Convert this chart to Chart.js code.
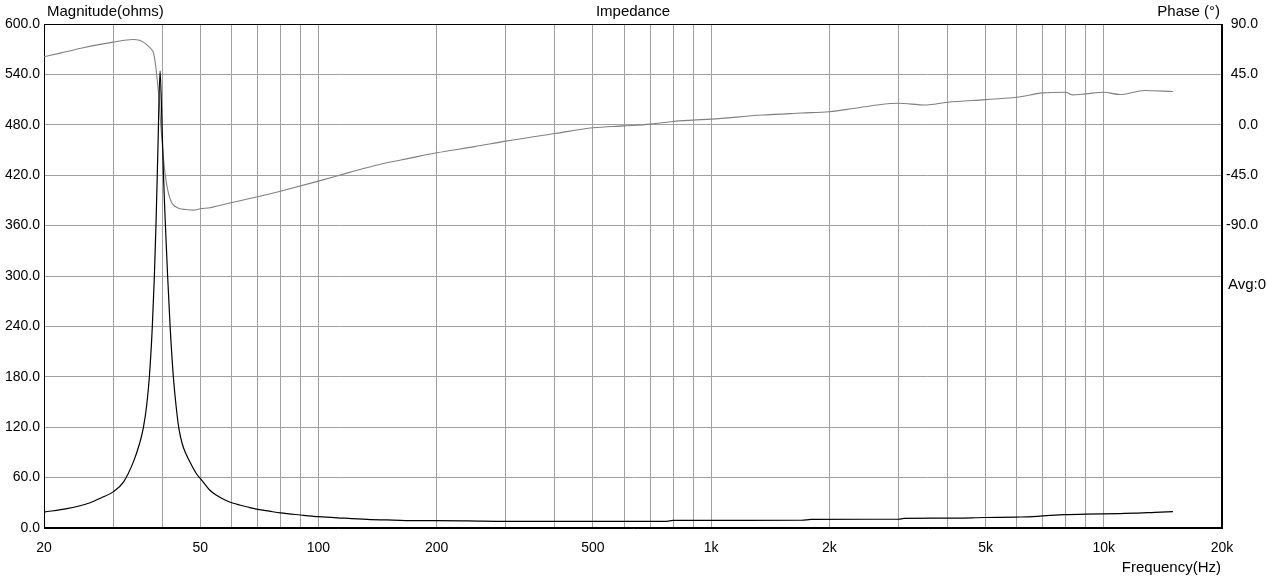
<!DOCTYPE html>
<html>
<head>
<meta charset="utf-8">
<script src="https://cdn.jsdelivr.net/npm/chart.js@4.4.1/dist/chart.umd.min.js"></script>
<style>
    body { margin: 0; background: #fff; }
    #wrap { width: 1268px; height: 578px; }
</style>
</head>
<body>
<div id="wrap"><canvas id="impedancia" width="1268" height="578"></canvas></div>
<script>
// magnitude curve (Hz, ohms)
const magFreq = [20, 22.9, 26.2, 28, 30, 31.9, 33.8, 35, 35.8, 36.5, 37.1, 37.75, 38.2, 38.6, 39.0, 39.5, 39.9, 40.3, 40.7, 41.3, 41.9, 42.7, 43.4, 44.1, 45, 46, 47.5, 49, 50, 51, 52.9, 55, 58, 60.7, 63, 66, 70, 75, 80, 90, 100, 115, 133, 155, 178, 200, 240, 300, 400, 500, 600, 770, 800, 1000, 1200, 1700, 1800, 2500, 3000, 3100, 4000, 5000, 6000, 6600, 7300, 8000, 9000, 10000, 11000, 12000, 13500, 15000];
const magOhms = [19, 23, 30, 36, 43, 55, 79, 100, 119, 145, 180, 240, 299, 367, 450, 544, 490, 420, 367, 299, 240, 180, 145, 119, 100, 88, 75, 64, 59, 54, 45, 39, 33, 29.5, 27.4, 25, 22.2, 20, 18, 15.5, 13.5, 11.8, 10.3, 9.4, 8.7, 8.8, 8.5, 7.9, 7.9, 7.9, 7.9, 7.9, 9, 9, 9.1, 9.2, 10.3, 10.4, 10.4, 11.5, 11.7, 12.5, 13, 13.5, 15, 16, 16.4, 16.8, 17.2, 17.6, 18.6, 19.4];

// phase curve (Hz, degrees)
const phaseFreq = [20, 22, 25, 28, 30, 32, 33.8, 35, 35.8, 36.8, 37.6, 38, 38.3, 38.6, 38.9, 39.3, 39.7, 40.0, 40.4, 40.8, 41.3, 41.8, 42.3, 43.2, 44.4, 46, 48, 50, 53, 56, 60, 70, 80, 100, 120, 143, 170, 200, 250, 300, 400, 500, 600, 700, 800, 900, 1000, 1350, 1700, 2000, 2300, 2650, 3000, 3500, 4000, 5000, 6000, 7000, 8000, 8300, 9000, 10000, 11000, 12700, 15000];
const phaseDeg = [60.7, 64, 68.5, 72, 73.8, 75.5, 76.2, 75.5, 73.8, 70.5, 67.2, 64.5, 58, 49.4, 38, 22, -2, -16, -34, -47, -58, -65, -69.6, -73, -75, -75.6, -76.2, -75, -74, -72, -69.6, -64.3, -59.3, -50.3, -42.5, -35.4, -30, -25, -19.5, -14.6, -7.8, -2.7, -1, 0.6, 3, 4.2, 5.1, 8.7, 10.5, 11.7, 14.5, 17.7, 19.2, 17.7, 20.1, 22.5, 24.6, 28.5, 29.1, 26.7, 27.6, 29.1, 27, 30.6, 29.7];

// axes
const freqGrid = [20, 30, 40, 50, 60, 70, 80, 90, 100, 200, 300, 400, 500, 600, 700, 800, 900, 1000, 2000, 3000, 4000, 5000, 6000, 7000, 8000, 9000, 10000, 20000];
const freqLabels = { 20: '20', 50: '50', 100: '100', 200: '200', 500: '500', 1000: '1k', 2000: '2k', 5000: '5k', 10000: '10k', 20000: '20k' };

const fonte = { family: "'Liberation Sans', Arial, sans-serif", size: 14 };

const textos = {
    id: 'textos',
    beforeDatasetsDraw(chart) {
        const { ctx, chartArea } = chart;
        ctx.save();
        ctx.strokeStyle = '#000';
        ctx.lineWidth = 1;
        ctx.strokeRect(chartArea.left + 0.5, chartArea.top + 0.5, chartArea.right - chartArea.left - 1, chartArea.bottom - chartArea.top - 1);
        ctx.restore();
    },
    afterDraw(chart) {
        const { ctx, chartArea } = chart;
        ctx.save();
        ctx.fillStyle = '#000';
        ctx.font = "15px 'Liberation Sans', Arial, sans-serif";
        ctx.textBaseline = 'middle';
        ctx.textAlign = 'left';
        ctx.fillText('Magnitude(ohms)', chartArea.left + 3, 12);
        ctx.fillText('Avg:0', chartArea.right + 6, 285);
        ctx.textAlign = 'center';
        ctx.fillText('Impedance', (chartArea.left + chartArea.right) / 2, 12);
        ctx.textAlign = 'right';
        ctx.fillText('Phase (°)', chartArea.right - 2, 12);
        ctx.fillText('Frequency(Hz)', chartArea.right - 1, 568);
        ctx.restore();
    }
};

new Chart(document.getElementById('impedancia'), {
    type: 'line',
    data: {
        datasets: [
            {
                label: 'Magnitude',
                data: magFreq.map((f, i) => ({ x: f, y: magOhms[i] })),
                yAxisID: 'y',
                borderColor: '#000',
                borderWidth: 1.2,
                pointRadius: 0,
                cubicInterpolationMode: 'monotone'
            },
            {
                label: 'Phase',
                data: phaseFreq.map((f, i) => ({ x: f, y: phaseDeg[i] })),
                yAxisID: 'y2',
                borderColor: '#808080',
                borderWidth: 1.1,
                pointRadius: 0,
                cubicInterpolationMode: 'monotone'
            }
        ]
    },
    options: {
        responsive: false,
        animation: false,
        devicePixelRatio: 1,
        layout: { padding: { top: 24, right: 10, left: 0, bottom: 0 } },
        plugins: {
            legend: { display: false },
            tooltip: { enabled: false }
        },
        scales: {
            x: {
                type: 'logarithmic',
                min: 20,
                max: 20000,
                afterBuildTicks: (scale) => { scale.ticks = freqGrid.map(v => ({ value: v })); },
                afterFit: (scale) => { scale.height = 50; },
                grid: { color: '#a0a0a0', drawTicks: false },
                border: { color: '#000' },
                ticks: {
                    autoSkip: false,
                    maxRotation: 0,
                    padding: 12,
                    color: '#000',
                    font: fonte,
                    callback: (v) => freqLabels[v] || ''
                }
            },
            y: {
                position: 'left',
                min: 0,
                max: 600,
                afterFit: (scale) => { scale.width = 44; },
                grid: { color: '#a0a0a0', drawTicks: false },
                border: { color: '#000' },
                ticks: {
                    stepSize: 60,
                    padding: 4,
                    color: '#000',
                    font: fonte,
                    callback: (v) => v.toFixed(1)
                }
            },
            y2: {
                position: 'right',
                min: -360,
                max: 90,
                afterFit: (scale) => { scale.width = 36; },
                grid: { display: false, drawTicks: false },
                border: { color: '#000' },
                ticks: {
                    stepSize: 45,
                    crossAlign: 'far',
                    color: '#000',
                    font: fonte,
                    callback: (v) => (v >= -90 ? v.toFixed(1) : null)
                }
            }
        }
    },
    plugins: [textos]
});
</script>
</body>
</html>
